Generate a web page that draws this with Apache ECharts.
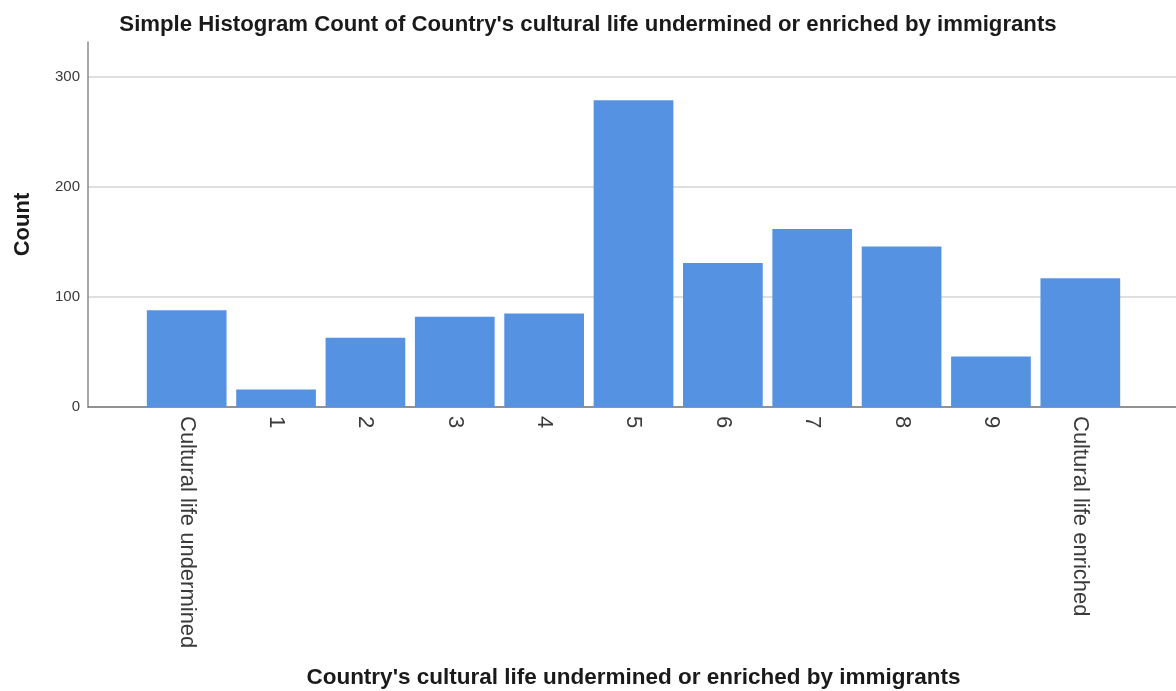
<!DOCTYPE html>
<html>
<head>
<meta charset="utf-8">
<script src="https://cdn.jsdelivr.net/npm/echarts@6/dist/echarts.min.js"></script>
<style>
html,body{margin:0;padding:0;background:#fff;}
#chart{width:1176px;height:691px;}
</style>
</head>
<body>
<div id="chart"></div>
<script>
const categories = ['Cultural life undermined','1','2','3','4','5','6','7','8','9','Cultural life enriched'];
const counts = [88, 16, 63, 82, 85, 279, 131, 162, 146, 46, 117];
const yTicks = [0, 100, 200, 300];
const chartTitle = "Simple Histogram Count of Country's cultural life undermined or enriched by immigrants";
const xTitle = "Country's cultural life undermined or enriched by immigrants";
const yTitle = 'Count';

const FONT = '"Liberation Sans", Arial, sans-serif';
const yMax = 332;
const chart = echarts.init(document.getElementById('chart'));
chart.setOption({
  backgroundColor: '#ffffff',
  animation: false,
  title: {
    text: chartTitle,
    left: 'center',
    top: 9,
    textStyle: { fontFamily: FONT, fontWeight: 'bold', fontSize: 22.2, color: '#1a1a1a' }
  },
  grid: [
    { left: 88, right: 0, top: 42, height: 365, containLabel: false, outerBoundsMode: 'none' },
    { left: 142, width: 983, top: 42, height: 365, containLabel: false, outerBoundsMode: 'none' }
  ],
  xAxis: [
    {
      gridIndex: 0, type: 'value', min: 0, max: 1,
      axisLine: { show: true, lineStyle: { color: '#7a7a7a', width: 1.5 } },
      axisTick: { show: false }, axisLabel: { show: false }, splitLine: { show: false }
    },
    {
      gridIndex: 1, type: 'category', data: categories,
      axisLine: { show: false }, axisTick: { show: false },
      axisLabel: { rotate: -90, margin: 9, padding: [6, 0, 0, 0], fontFamily: FONT, fontSize: 22, color: '#3a3a3a', interval: 0 },
      name: xTitle, nameLocation: 'middle', nameGap: 259,
      nameTextStyle: { fontFamily: FONT, fontWeight: 'bold', fontSize: 22.5, color: '#1a1a1a' }
    }
  ],
  yAxis: [
    {
      gridIndex: 0, type: 'value', min: 0, max: yMax, interval: 100,
      axisLine: { show: true, lineStyle: { color: '#8a8a8a', width: 1.5 } },
      axisTick: { show: false, customValues: yTicks },
      axisLabel: {
        margin: 8, fontFamily: FONT, fontSize: 15, color: '#3a3a3a',
        customValues: yTicks
      },
      splitLine: { show: true, lineStyle: { color: '#d4d4d4', width: 1.5 } },
      name: yTitle, nameLocation: 'middle', nameGap: 54,
      nameTextStyle: { fontFamily: FONT, fontWeight: 'bold', fontSize: 22, color: '#1a1a1a' }
    },
    {
      gridIndex: 1, type: 'value', min: 0, max: yMax, interval: 100,
      show: false, splitLine: { show: false }
    }
  ],
  series: [{
    type: 'bar',
    xAxisIndex: 1, yAxisIndex: 1,
    data: counts,
    barWidth: '89.2%',
    itemStyle: { color: '#5593e2' }
  }]
});
</script>
</body>
</html>
